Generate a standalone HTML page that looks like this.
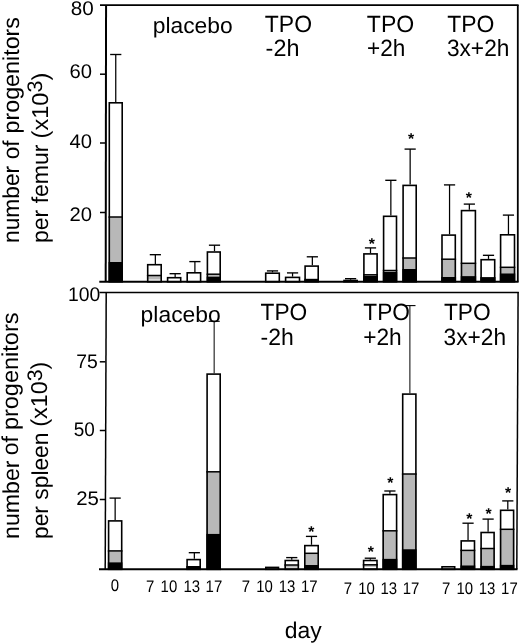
<!DOCTYPE html>
<html lang="en"><head><meta charset="utf-8"><title>Progenitors per femur and spleen</title>
<style>html,body{margin:0;padding:0;background:#fff}body{width:520px;height:644px;overflow:hidden}svg{display:block}text{font-family:"Liberation Sans", sans-serif;fill:#000;text-rendering:geometricPrecision}</style></head><body>
<svg width="520" height="644" viewBox="0 0 520 644">
<rect width="520" height="644" fill="#fff"/>
<rect x="108.50" y="102.00" width="14.50" height="179.75" fill="#fff"/>
<rect x="108.50" y="217.00" width="14.50" height="45.00" fill="#b8b8b8"/>
<line x1="108.50" x2="123.00" y1="217.00" y2="217.00" stroke="#000" stroke-width="1.5"/>
<rect x="108.50" y="262.00" width="14.50" height="19.75" fill="#000"/>
<rect x="109.30" y="102.80" width="12.90" height="178.95" fill="none" stroke="#000" stroke-width="1.6"/>
<line x1="115.75" x2="115.75" y1="54.50" y2="102.00" stroke="#000" stroke-width="1.25"/>
<line x1="110.15" x2="121.35" y1="54.50" y2="54.50" stroke="#000" stroke-width="1.35"/>
<rect x="146.90" y="263.90" width="15.10" height="17.85" fill="#fff"/>
<rect x="146.90" y="275.50" width="15.10" height="4.00" fill="#b8b8b8"/>
<line x1="146.90" x2="162.00" y1="275.50" y2="275.50" stroke="#000" stroke-width="1.5"/>
<rect x="147.70" y="264.70" width="13.50" height="17.05" fill="none" stroke="#000" stroke-width="1.6"/>
<line x1="155.35" x2="155.35" y1="254.70" y2="263.90" stroke="#000" stroke-width="1.25"/>
<line x1="149.75" x2="160.95" y1="254.70" y2="254.70" stroke="#000" stroke-width="1.35"/>
<rect x="166.80" y="276.90" width="14.70" height="4.85" fill="#fff"/>
<rect x="167.60" y="277.70" width="13.10" height="4.05" fill="none" stroke="#000" stroke-width="1.6"/>
<line x1="175.15" x2="175.15" y1="273.70" y2="276.90" stroke="#000" stroke-width="1.25"/>
<line x1="169.55" x2="180.75" y1="273.70" y2="273.70" stroke="#000" stroke-width="1.35"/>
<rect x="186.40" y="272.00" width="15.00" height="9.75" fill="#fff"/>
<rect x="187.20" y="272.80" width="13.40" height="8.95" fill="none" stroke="#000" stroke-width="1.6"/>
<line x1="194.90" x2="194.90" y1="261.60" y2="272.00" stroke="#000" stroke-width="1.25"/>
<line x1="189.30" x2="200.50" y1="261.60" y2="261.60" stroke="#000" stroke-width="1.35"/>
<rect x="206.60" y="251.20" width="14.40" height="30.55" fill="#fff"/>
<rect x="206.60" y="274.20" width="14.40" height="2.40" fill="#b8b8b8"/>
<line x1="206.60" x2="221.00" y1="274.20" y2="274.20" stroke="#000" stroke-width="1.5"/>
<rect x="206.60" y="276.60" width="14.40" height="5.15" fill="#000"/>
<rect x="207.40" y="252.00" width="12.80" height="29.75" fill="none" stroke="#000" stroke-width="1.6"/>
<line x1="214.50" x2="214.50" y1="245.20" y2="251.20" stroke="#000" stroke-width="1.25"/>
<line x1="208.90" x2="220.10" y1="245.20" y2="245.20" stroke="#000" stroke-width="1.35"/>
<rect x="264.90" y="272.40" width="15.20" height="9.35" fill="#fff"/>
<rect x="265.70" y="273.20" width="13.60" height="8.55" fill="none" stroke="#000" stroke-width="1.6"/>
<line x1="272.50" x2="272.50" y1="270.90" y2="272.40" stroke="#000" stroke-width="1.25"/>
<line x1="266.90" x2="278.10" y1="270.90" y2="270.90" stroke="#000" stroke-width="1.35"/>
<rect x="284.80" y="276.60" width="15.50" height="5.15" fill="#fff"/>
<rect x="285.60" y="277.40" width="13.90" height="4.35" fill="none" stroke="#000" stroke-width="1.6"/>
<line x1="292.55" x2="292.55" y1="272.90" y2="276.60" stroke="#000" stroke-width="1.25"/>
<line x1="286.95" x2="298.15" y1="272.90" y2="272.90" stroke="#000" stroke-width="1.35"/>
<rect x="304.30" y="265.30" width="14.70" height="16.45" fill="#fff"/>
<rect x="304.30" y="278.80" width="14.70" height="2.95" fill="#000"/>
<rect x="305.10" y="266.10" width="13.10" height="15.65" fill="none" stroke="#000" stroke-width="1.6"/>
<line x1="312.35" x2="312.35" y1="256.80" y2="265.30" stroke="#000" stroke-width="1.25"/>
<line x1="306.75" x2="317.95" y1="256.80" y2="256.80" stroke="#000" stroke-width="1.35"/>
<rect x="343.20" y="279.70" width="14.80" height="2.05" fill="#fff"/>
<rect x="344.00" y="280.50" width="13.20" height="1.25" fill="none" stroke="#000" stroke-width="1.6"/>
<line x1="350.60" x2="350.60" y1="278.70" y2="279.70" stroke="#000" stroke-width="1.25"/>
<line x1="345.00" x2="356.20" y1="278.70" y2="278.70" stroke="#000" stroke-width="1.35"/>
<rect x="363.10" y="253.10" width="14.80" height="28.65" fill="#fff"/>
<rect x="363.10" y="274.80" width="14.80" height="1.20" fill="#b8b8b8"/>
<line x1="363.10" x2="377.90" y1="274.80" y2="274.80" stroke="#000" stroke-width="1.5"/>
<rect x="363.10" y="276.00" width="14.80" height="5.75" fill="#000"/>
<rect x="363.90" y="253.90" width="13.20" height="27.85" fill="none" stroke="#000" stroke-width="1.6"/>
<line x1="370.50" x2="370.50" y1="247.90" y2="253.10" stroke="#000" stroke-width="1.25"/>
<line x1="364.90" x2="376.10" y1="247.90" y2="247.90" stroke="#000" stroke-width="1.35"/>
<text x="371.90" y="248.50" font-size="15.8" font-weight="bold" text-anchor="middle">*</text>
<rect x="382.80" y="215.50" width="14.50" height="66.25" fill="#fff"/>
<rect x="382.80" y="270.50" width="14.50" height="1.50" fill="#b8b8b8"/>
<line x1="382.80" x2="397.30" y1="270.50" y2="270.50" stroke="#000" stroke-width="1.5"/>
<rect x="382.80" y="272.00" width="14.50" height="9.75" fill="#000"/>
<rect x="383.60" y="216.30" width="12.90" height="65.45" fill="none" stroke="#000" stroke-width="1.6"/>
<line x1="390.85" x2="390.85" y1="180.30" y2="215.50" stroke="#000" stroke-width="1.25"/>
<line x1="385.25" x2="396.45" y1="180.30" y2="180.30" stroke="#000" stroke-width="1.35"/>
<rect x="402.30" y="184.60" width="14.70" height="97.15" fill="#fff"/>
<rect x="402.30" y="258.00" width="14.70" height="11.00" fill="#b8b8b8"/>
<line x1="402.30" x2="417.00" y1="258.00" y2="258.00" stroke="#000" stroke-width="1.5"/>
<rect x="402.30" y="269.00" width="14.70" height="12.75" fill="#000"/>
<rect x="403.10" y="185.40" width="13.10" height="96.35" fill="none" stroke="#000" stroke-width="1.6"/>
<line x1="410.15" x2="410.15" y1="149.10" y2="184.60" stroke="#000" stroke-width="1.25"/>
<line x1="404.55" x2="415.75" y1="149.10" y2="149.10" stroke="#000" stroke-width="1.35"/>
<text x="411.00" y="144.30" font-size="15.8" font-weight="bold" text-anchor="middle">*</text>
<rect x="441.20" y="234.30" width="14.90" height="47.45" fill="#fff"/>
<rect x="441.20" y="259.20" width="14.90" height="17.80" fill="#b8b8b8"/>
<line x1="441.20" x2="456.10" y1="259.20" y2="259.20" stroke="#000" stroke-width="1.5"/>
<rect x="441.20" y="277.00" width="14.90" height="4.75" fill="#000"/>
<rect x="442.00" y="235.10" width="13.30" height="46.65" fill="none" stroke="#000" stroke-width="1.6"/>
<line x1="449.55" x2="449.55" y1="184.90" y2="234.30" stroke="#000" stroke-width="1.25"/>
<line x1="443.95" x2="455.15" y1="184.90" y2="184.90" stroke="#000" stroke-width="1.35"/>
<rect x="460.70" y="209.80" width="15.50" height="71.95" fill="#fff"/>
<rect x="460.70" y="263.30" width="15.50" height="12.80" fill="#b8b8b8"/>
<line x1="460.70" x2="476.20" y1="263.30" y2="263.30" stroke="#000" stroke-width="1.5"/>
<rect x="460.70" y="276.10" width="15.50" height="5.65" fill="#000"/>
<rect x="461.50" y="210.60" width="13.90" height="71.15" fill="none" stroke="#000" stroke-width="1.6"/>
<line x1="469.35" x2="469.35" y1="204.10" y2="209.80" stroke="#000" stroke-width="1.25"/>
<line x1="463.75" x2="474.95" y1="204.10" y2="204.10" stroke="#000" stroke-width="1.35"/>
<text x="468.80" y="203.40" font-size="15.8" font-weight="bold" text-anchor="middle">*</text>
<rect x="480.30" y="258.90" width="15.20" height="22.85" fill="#fff"/>
<rect x="480.30" y="277.10" width="15.20" height="4.65" fill="#000"/>
<rect x="481.10" y="259.70" width="13.60" height="22.05" fill="none" stroke="#000" stroke-width="1.6"/>
<line x1="488.50" x2="488.50" y1="255.30" y2="258.90" stroke="#000" stroke-width="1.25"/>
<line x1="482.90" x2="494.10" y1="255.30" y2="255.30" stroke="#000" stroke-width="1.35"/>
<rect x="499.80" y="234.00" width="15.50" height="47.75" fill="#fff"/>
<rect x="499.80" y="267.30" width="15.50" height="6.10" fill="#b8b8b8"/>
<line x1="499.80" x2="515.30" y1="267.30" y2="267.30" stroke="#000" stroke-width="1.5"/>
<rect x="499.80" y="273.40" width="15.50" height="8.35" fill="#000"/>
<rect x="500.60" y="234.80" width="13.90" height="46.95" fill="none" stroke="#000" stroke-width="1.6"/>
<line x1="508.45" x2="508.45" y1="215.10" y2="234.00" stroke="#000" stroke-width="1.25"/>
<line x1="502.85" x2="514.05" y1="215.10" y2="215.10" stroke="#000" stroke-width="1.35"/>
<rect x="107.80" y="520.10" width="14.70" height="49.20" fill="#fff"/>
<rect x="107.80" y="550.90" width="14.70" height="11.40" fill="#b8b8b8"/>
<line x1="107.80" x2="122.50" y1="550.90" y2="550.90" stroke="#000" stroke-width="1.5"/>
<rect x="107.80" y="562.30" width="14.70" height="7.00" fill="#000"/>
<rect x="108.60" y="520.90" width="13.10" height="48.40" fill="none" stroke="#000" stroke-width="1.6"/>
<line x1="115.15" x2="115.15" y1="498.10" y2="520.10" stroke="#000" stroke-width="1.25"/>
<line x1="109.55" x2="120.75" y1="498.10" y2="498.10" stroke="#000" stroke-width="1.35"/>
<rect x="186.30" y="558.80" width="14.70" height="10.50" fill="#fff"/>
<rect x="186.30" y="566.00" width="14.70" height="3.30" fill="#000"/>
<rect x="187.10" y="559.60" width="13.10" height="9.70" fill="none" stroke="#000" stroke-width="1.6"/>
<line x1="194.35" x2="194.35" y1="552.70" y2="558.80" stroke="#000" stroke-width="1.25"/>
<line x1="188.75" x2="199.95" y1="552.70" y2="552.70" stroke="#000" stroke-width="1.35"/>
<rect x="206.30" y="373.30" width="14.70" height="196.00" fill="#fff"/>
<rect x="206.30" y="471.80" width="14.70" height="62.10" fill="#b8b8b8"/>
<line x1="206.30" x2="221.00" y1="471.80" y2="471.80" stroke="#000" stroke-width="1.5"/>
<rect x="206.30" y="533.90" width="14.70" height="35.40" fill="#000"/>
<rect x="207.10" y="374.10" width="13.10" height="195.20" fill="none" stroke="#000" stroke-width="1.6"/>
<line x1="214.15" x2="214.15" y1="321.30" y2="373.30" stroke="#000" stroke-width="1.0"/>
<line x1="208.55" x2="219.75" y1="321.30" y2="321.30" stroke="#000" stroke-width="1.1"/>
<rect x="265.00" y="566.60" width="14.30" height="2.70" fill="#fff"/>
<rect x="265.80" y="567.40" width="12.70" height="1.90" fill="none" stroke="#000" stroke-width="1.6"/>
<rect x="284.40" y="559.70" width="14.70" height="9.60" fill="#fff"/>
<rect x="284.40" y="565.00" width="14.70" height="2.60" fill="#b8b8b8"/>
<line x1="284.40" x2="299.10" y1="565.00" y2="565.00" stroke="#000" stroke-width="1.5"/>
<rect x="285.20" y="560.50" width="13.10" height="8.80" fill="none" stroke="#000" stroke-width="1.6"/>
<line x1="291.75" x2="291.75" y1="557.60" y2="559.70" stroke="#000" stroke-width="1.25"/>
<line x1="286.15" x2="297.35" y1="557.60" y2="557.60" stroke="#000" stroke-width="1.35"/>
<rect x="304.00" y="544.80" width="15.00" height="24.50" fill="#fff"/>
<rect x="304.00" y="553.30" width="15.00" height="11.70" fill="#b8b8b8"/>
<line x1="304.00" x2="319.00" y1="553.30" y2="553.30" stroke="#000" stroke-width="1.5"/>
<rect x="304.00" y="565.00" width="15.00" height="4.30" fill="#000"/>
<rect x="304.80" y="545.60" width="13.40" height="23.70" fill="none" stroke="#000" stroke-width="1.6"/>
<line x1="311.50" x2="311.50" y1="536.40" y2="544.80" stroke="#000" stroke-width="1.25"/>
<line x1="305.90" x2="317.10" y1="536.40" y2="536.40" stroke="#000" stroke-width="1.35"/>
<text x="311.30" y="536.90" font-size="15.8" font-weight="bold" text-anchor="middle">*</text>
<rect x="362.80" y="559.70" width="15.00" height="9.60" fill="#fff"/>
<rect x="362.80" y="564.80" width="15.00" height="2.00" fill="#b8b8b8"/>
<line x1="362.80" x2="377.80" y1="564.80" y2="564.80" stroke="#000" stroke-width="1.5"/>
<rect x="363.60" y="560.50" width="13.40" height="8.80" fill="none" stroke="#000" stroke-width="1.6"/>
<line x1="370.30" x2="370.30" y1="558.20" y2="559.70" stroke="#000" stroke-width="1.25"/>
<line x1="364.70" x2="375.90" y1="558.20" y2="558.20" stroke="#000" stroke-width="1.35"/>
<text x="370.90" y="556.80" font-size="15.8" font-weight="bold" text-anchor="middle">*</text>
<rect x="382.40" y="493.80" width="15.00" height="75.50" fill="#fff"/>
<rect x="382.40" y="530.80" width="15.00" height="28.00" fill="#b8b8b8"/>
<line x1="382.40" x2="397.40" y1="530.80" y2="530.80" stroke="#000" stroke-width="1.5"/>
<rect x="382.40" y="558.80" width="15.00" height="10.50" fill="#000"/>
<rect x="383.20" y="494.60" width="13.40" height="74.70" fill="none" stroke="#000" stroke-width="1.6"/>
<line x1="389.90" x2="389.90" y1="491.00" y2="493.80" stroke="#000" stroke-width="1.25"/>
<line x1="384.30" x2="395.50" y1="491.00" y2="491.00" stroke="#000" stroke-width="1.35"/>
<text x="390.40" y="488.40" font-size="15.8" font-weight="bold" text-anchor="middle">*</text>
<rect x="401.90" y="393.30" width="14.80" height="176.00" fill="#fff"/>
<rect x="401.90" y="474.00" width="14.80" height="75.20" fill="#b8b8b8"/>
<line x1="401.90" x2="416.70" y1="474.00" y2="474.00" stroke="#000" stroke-width="1.5"/>
<rect x="401.90" y="549.20" width="14.80" height="20.10" fill="#000"/>
<rect x="402.70" y="394.10" width="13.20" height="175.20" fill="none" stroke="#000" stroke-width="1.6"/>
<line x1="409.90" x2="409.90" y1="305.60" y2="393.30" stroke="#000" stroke-width="1.0"/>
<line x1="404.30" x2="415.50" y1="305.60" y2="305.60" stroke="#000" stroke-width="1.1"/>
<rect x="441.20" y="566.00" width="14.30" height="3.30" fill="#fff"/>
<rect x="442.00" y="566.80" width="12.70" height="2.50" fill="none" stroke="#000" stroke-width="1.6"/>
<rect x="460.40" y="540.10" width="14.90" height="29.20" fill="#fff"/>
<rect x="460.40" y="550.40" width="14.90" height="15.00" fill="#b8b8b8"/>
<line x1="460.40" x2="475.30" y1="550.40" y2="550.40" stroke="#000" stroke-width="1.5"/>
<rect x="460.40" y="565.40" width="14.90" height="3.90" fill="#000"/>
<rect x="461.20" y="540.90" width="13.30" height="28.40" fill="none" stroke="#000" stroke-width="1.6"/>
<line x1="468.05" x2="468.05" y1="523.20" y2="540.10" stroke="#000" stroke-width="1.25"/>
<line x1="462.45" x2="473.65" y1="523.20" y2="523.20" stroke="#000" stroke-width="1.35"/>
<text x="469.30" y="523.70" font-size="15.8" font-weight="bold" text-anchor="middle">*</text>
<rect x="480.30" y="531.70" width="14.60" height="37.60" fill="#fff"/>
<rect x="480.30" y="548.50" width="14.60" height="17.30" fill="#b8b8b8"/>
<line x1="480.30" x2="494.90" y1="548.50" y2="548.50" stroke="#000" stroke-width="1.5"/>
<rect x="480.30" y="565.80" width="14.60" height="3.50" fill="#000"/>
<rect x="481.10" y="532.50" width="13.00" height="36.80" fill="none" stroke="#000" stroke-width="1.6"/>
<line x1="488.10" x2="488.10" y1="519.10" y2="531.70" stroke="#000" stroke-width="1.25"/>
<line x1="482.50" x2="493.70" y1="519.10" y2="519.10" stroke="#000" stroke-width="1.35"/>
<text x="488.70" y="519.20" font-size="15.8" font-weight="bold" text-anchor="middle">*</text>
<rect x="499.80" y="509.50" width="14.60" height="59.80" fill="#fff"/>
<rect x="499.80" y="529.30" width="14.60" height="35.50" fill="#b8b8b8"/>
<line x1="499.80" x2="514.40" y1="529.30" y2="529.30" stroke="#000" stroke-width="1.5"/>
<rect x="499.80" y="564.80" width="14.60" height="4.50" fill="#000"/>
<rect x="500.60" y="510.30" width="13.00" height="59.00" fill="none" stroke="#000" stroke-width="1.6"/>
<line x1="507.80" x2="507.80" y1="500.90" y2="509.50" stroke="#000" stroke-width="1.25"/>
<line x1="502.20" x2="513.40" y1="500.90" y2="500.90" stroke="#000" stroke-width="1.35"/>
<text x="508.20" y="498.10" font-size="15.8" font-weight="bold" text-anchor="middle">*</text>
<g fill="none" stroke="#000" stroke-width="2.1">
<path d="M100 5.15 H518.6" stroke-width="1.85"/>
<path d="M99.3 281.8 H518.6" stroke-width="1.95"/>
<line x1="517.8" x2="517.8" y1="5.1" y2="281.8" stroke-width="1.8"/>
<line x1="106.05" x2="105.7" y1="5.2" y2="281.8" stroke-width="2"/>
<line x1="99.5" x2="518.8" y1="292.4" y2="292.4" stroke-width="1.5"/>
<line x1="99" x2="517.5" y1="569.3" y2="569.3"/>
</g>
<line x1="518.1" x2="516.8" y1="292" y2="569.3" stroke="#000" stroke-width="1.5"/>
<line x1="106.2" x2="105.2" y1="292" y2="569.3" stroke="#000" stroke-width="1.5"/>
<g stroke="#000" stroke-width="1.5">
<line x1="100" x2="106" y1="74.2" y2="74.2"/>
<line x1="100" x2="106" y1="143" y2="143"/>
<line x1="100" x2="106" y1="212.5" y2="212.5"/>
<line x1="99.8" x2="105.4" y1="361.8" y2="361.8"/>
<line x1="99.8" x2="105.4" y1="430.5" y2="430.5"/>
<line x1="99.8" x2="105.4" y1="499.5" y2="499.5"/>
</g>
<text x="93.80" y="15.00" font-size="19.8" text-anchor="end" textLength="23.00" lengthAdjust="spacingAndGlyphs">80</text>
<text x="91.90" y="77.70" font-size="19.8" text-anchor="end" textLength="22.50" lengthAdjust="spacingAndGlyphs">60</text>
<text x="91.90" y="147.50" font-size="19.8" text-anchor="end" textLength="22.50" lengthAdjust="spacingAndGlyphs">40</text>
<text x="91.90" y="220.50" font-size="19.8" text-anchor="end" textLength="22.50" lengthAdjust="spacingAndGlyphs">20</text>
<text x="100.40" y="301.20" font-size="19.8" text-anchor="end" textLength="32.30" lengthAdjust="spacingAndGlyphs">100</text>
<text x="97.90" y="368.20" font-size="19.8" text-anchor="end" textLength="21.60" lengthAdjust="spacingAndGlyphs">75</text>
<text x="94.90" y="436.30" font-size="19.8" text-anchor="end" textLength="21.10" lengthAdjust="spacingAndGlyphs">50</text>
<text x="98.90" y="505.40" font-size="19.8" text-anchor="end" textLength="22.70" lengthAdjust="spacingAndGlyphs">25</text>
<text x="115.00" y="590.60" font-size="16.8" text-anchor="middle" textLength="8.31" lengthAdjust="spacingAndGlyphs">0</text>
<text x="150.20" y="592.00" font-size="16.8" text-anchor="middle" textLength="8.31" lengthAdjust="spacingAndGlyphs">7</text>
<text x="168.90" y="592.00" font-size="16.8" text-anchor="middle" textLength="16.63" lengthAdjust="spacingAndGlyphs">10</text>
<text x="191.80" y="592.00" font-size="16.8" text-anchor="middle" textLength="16.63" lengthAdjust="spacingAndGlyphs">13</text>
<text x="213.90" y="592.00" font-size="16.8" text-anchor="middle" textLength="16.63" lengthAdjust="spacingAndGlyphs">17</text>
<text x="245.80" y="591.80" font-size="16.8" text-anchor="middle" textLength="8.31" lengthAdjust="spacingAndGlyphs">7</text>
<text x="264.50" y="591.80" font-size="16.8" text-anchor="middle" textLength="16.63" lengthAdjust="spacingAndGlyphs">10</text>
<text x="287.10" y="591.80" font-size="16.8" text-anchor="middle" textLength="16.63" lengthAdjust="spacingAndGlyphs">13</text>
<text x="309.30" y="591.80" font-size="16.8" text-anchor="middle" textLength="16.63" lengthAdjust="spacingAndGlyphs">17</text>
<text x="347.80" y="593.60" font-size="16.8" text-anchor="middle" textLength="8.31" lengthAdjust="spacingAndGlyphs">7</text>
<text x="366.50" y="593.60" font-size="16.8" text-anchor="middle" textLength="16.63" lengthAdjust="spacingAndGlyphs">10</text>
<text x="388.80" y="593.60" font-size="16.8" text-anchor="middle" textLength="16.63" lengthAdjust="spacingAndGlyphs">13</text>
<text x="411.00" y="593.60" font-size="16.8" text-anchor="middle" textLength="16.63" lengthAdjust="spacingAndGlyphs">17</text>
<text x="446.20" y="594.00" font-size="16.8" text-anchor="middle" textLength="8.31" lengthAdjust="spacingAndGlyphs">7</text>
<text x="464.80" y="594.00" font-size="16.8" text-anchor="middle" textLength="16.63" lengthAdjust="spacingAndGlyphs">10</text>
<text x="487.10" y="594.00" font-size="16.8" text-anchor="middle" textLength="16.63" lengthAdjust="spacingAndGlyphs">13</text>
<text x="509.40" y="594.00" font-size="16.8" text-anchor="middle" textLength="16.63" lengthAdjust="spacingAndGlyphs">17</text>
<text x="284.80" y="637.90" font-size="22.7" text-anchor="start" textLength="37.00" lengthAdjust="spacingAndGlyphs">day</text>
<text x="152.70" y="33.40" font-size="22.2" text-anchor="start" textLength="80.00" lengthAdjust="spacingAndGlyphs">placebo</text>
<text x="264.80" y="32.10" font-size="23.5" text-anchor="start" textLength="47.20" lengthAdjust="spacingAndGlyphs">TPO</text>
<text x="265.60" y="56.40" font-size="23.5" text-anchor="start" textLength="33.80" lengthAdjust="spacingAndGlyphs">-2h</text>
<text x="366.80" y="32.10" font-size="23.5" text-anchor="start" textLength="47.40" lengthAdjust="spacingAndGlyphs">TPO</text>
<text x="367.10" y="55.70" font-size="23.5" text-anchor="start" textLength="38.30" lengthAdjust="spacingAndGlyphs">+2h</text>
<text x="447.20" y="31.80" font-size="23.5" text-anchor="start" textLength="47.20" lengthAdjust="spacingAndGlyphs">TPO</text>
<text x="446.90" y="56.00" font-size="23.5" text-anchor="start" textLength="62.50" lengthAdjust="spacingAndGlyphs">3x+2h</text>
<text x="140.60" y="322.20" font-size="22.2" text-anchor="start" textLength="80.20" lengthAdjust="spacingAndGlyphs">placebo</text>
<text x="260.60" y="320.20" font-size="23.5" text-anchor="start" textLength="46.70" lengthAdjust="spacingAndGlyphs">TPO</text>
<text x="260.60" y="345.40" font-size="23.5" text-anchor="start" textLength="33.20" lengthAdjust="spacingAndGlyphs">-2h</text>
<text x="363.30" y="320.20" font-size="23.5" text-anchor="start" textLength="46.60" lengthAdjust="spacingAndGlyphs">TPO</text>
<text x="363.20" y="345.40" font-size="23.5" text-anchor="start" textLength="38.50" lengthAdjust="spacingAndGlyphs">+2h</text>
<text x="443.90" y="319.90" font-size="23.5" text-anchor="start" textLength="46.70" lengthAdjust="spacingAndGlyphs">TPO</text>
<text x="443.60" y="344.60" font-size="23.5" text-anchor="start" textLength="62.50" lengthAdjust="spacingAndGlyphs">3x+2h</text>
<text x="18.80" y="243.00" font-size="23" text-anchor="start" textLength="77.10" lengthAdjust="spacingAndGlyphs" transform="rotate(-90 18.80 243.00)">number</text>
<text x="18.80" y="159.30" font-size="23" text-anchor="start" textLength="18.90" lengthAdjust="spacingAndGlyphs" transform="rotate(-90 18.80 159.30)">of</text>
<text x="18.80" y="133.50" font-size="23" text-anchor="start" textLength="116.50" lengthAdjust="spacingAndGlyphs" transform="rotate(-90 18.80 133.50)">progenitors</text>
<text x="48.00" y="243.00" font-size="23" text-anchor="start" textLength="98.50" lengthAdjust="spacingAndGlyphs" transform="rotate(-90 48.00 243.00)">per femur</text>
<text x="48.00" y="138.40" font-size="23" text-anchor="start" textLength="65.70" lengthAdjust="spacingAndGlyphs" transform="rotate(-90 48.00 138.40)">(x10<tspan font-size="21" dy="-5.6">3</tspan><tspan dy="5.6">)</tspan></text>
<text x="18.50" y="539.00" font-size="23" text-anchor="start" textLength="78.50" lengthAdjust="spacingAndGlyphs" transform="rotate(-90 18.50 539.00)">number</text>
<text x="18.50" y="455.30" font-size="23" text-anchor="start" textLength="19.10" lengthAdjust="spacingAndGlyphs" transform="rotate(-90 18.50 455.30)">of</text>
<text x="18.50" y="430.10" font-size="23" text-anchor="start" textLength="117.60" lengthAdjust="spacingAndGlyphs" transform="rotate(-90 18.50 430.10)">progenitors</text>
<text x="47.50" y="539.00" font-size="23" text-anchor="start" textLength="106.50" lengthAdjust="spacingAndGlyphs" transform="rotate(-90 47.50 539.00)">per spleen</text>
<text x="47.50" y="426.70" font-size="23" text-anchor="start" textLength="65.00" lengthAdjust="spacingAndGlyphs" transform="rotate(-90 47.50 426.70)">(x10<tspan font-size="21" dy="-5.6">3</tspan><tspan dy="5.6">)</tspan></text>
</svg></body></html>
